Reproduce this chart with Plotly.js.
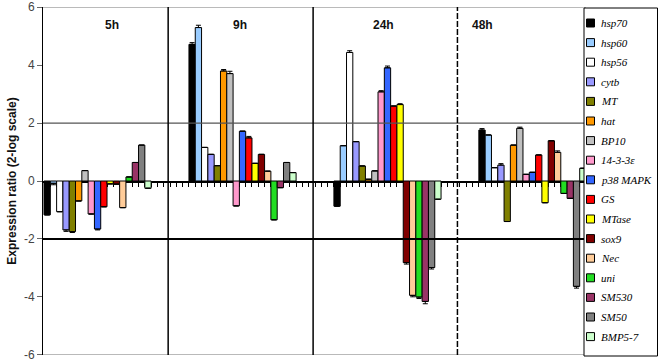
<!DOCTYPE html>
<html><head><meta charset="utf-8">
<script src="https://cdn.plot.ly/plotly-3.0.1.min.js"></script>
<style>html,body{margin:0;padding:0;background:#fff}#chart{width:661px;height:361px}</style>
</head><body><div id="chart"></div>
<script>
// ---- data ----
const genes = ['hsp70','hsp60','hsp56','cytb','MT','hat','BP10','14-3-3ε','p38 MAPK','GS','MTase','sox9','Nec','uni','SM530','SM50','BMP5-7'];
const geneColors = ['#000000','#99CCFF','#FFFFFF','#9999FF','#808000','#FF9900','#C0C0C0','#FF99CC','#3366FF','#FF0000','#FFFF00','#800000','#FFCC99','#22DD22','#993366','#808080','#CCFFCC'];
const times = ['5h','9h','24h','48h'];
const values5h  = [-1.17,-0.08,-1.06,-1.69,-1.75,-0.69, 0.36,-1.14,-1.66,-0.89,-0.10,-0.11,-0.92, 0.14, 0.64, 1.24,-0.25];
const values9h  = [ 4.72, 5.30, 1.16, 0.92, 0.53, 3.80, 3.71,-0.86, 1.72, 1.49, 0.61, 0.92, 0.34,-1.34,-0.23, 0.64, 0.29];
const values24h = [-0.87, 1.22, 4.44, 1.36, 0.52, 0.06, 0.35, 3.08, 3.91, 2.59, 2.64,-2.82,-3.95,-4.01,-4.16,-2.99,-0.63];
const values48h = [ 1.76, 1.59, 0.46, 0.55,-1.40, 1.24, 1.82, 0.23, 0.30, 0.90,-0.75, 1.39, 0.99,-0.43,-0.60,-3.64, 0.44];
const err5h  = [0, 0.05, 0, 0.05, 0.03, 0, 0, 0, 0.03, 0, 0, 0, 0, 0, 0, 0, 0];
const err9h  = [0.06, 0.08, 0, 0, 0, 0.05, 0.08, 0, 0, 0.05, 0, 0, 0, 0, 0, 0, 0];
const err24h = [0, 0, 0.06, 0, 0, 0, 0, 0.04, 0.06, 0, 0.03, 0.05, 0.05, 0.05, 0.08, 0.05, 0];
const err48h = [0.05, 0, 0, 0.05, 0, 0, 0.04, 0, 0, 0, 0, 0, 0.05, 0, 0, 0.06, 0];
const yTickVals = [-6,-4,-2,0,2,4,6];
const yTickText = ['-6','-4','-2','0','2','4','6'];

// ---- layout constants ----
const W = 661, H = 361;
const L = 43, R = 586, T = 7, B = 355;
const slotsPerGroup = 23;
const allValues = [values5h, values9h, values24h, values48h];
const allErr = [err5h, err9h, err24h, err48h];
const pxX = px => (px - L) / (R - L);
const pxY = py => 1 - (py - T) / (B - T);

const traces = genes.map((g, i) => {
  const ys = allValues.map(v => v[i]);
  const es = allErr.map(e => e[i]);
  return {
    type: 'bar', name: g,
    x: times.map((t, k) => k * slotsPerGroup + i + 0.5),
    y: ys, width: 1,
    marker: {color: geneColors[i], line: {color: '#000', width: 1}},
    error_y: {type: 'data', symmetric: false,
      array: ys.map((v, k) => v >= 0 ? es[k] : 0),
      arrayminus: ys.map((v, k) => v < 0 ? es[k] : 0),
      color: '#000', thickness: 1, width: 2.5},
    showlegend: false, hovertemplate: g + ' %{y}<extra></extra>'
  };
});

const shapes = [];
// horizontal reference lines
[[6,'#A8A8A8',1],[2,'#555',1.3],[-2,'#000',2],[-6,'#A8A8A8',1]].forEach(([v,c,w]) => {
  shapes.push({type:'line', xref:'paper', yref:'y', x0:0, x1:1, y0:v, y1:v, line:{color:c, width:w}, layer:'above'});
});
// group separators
[[19.7,'solid'],[42.7,'solid'],[65.6,'6px,2px']].forEach(([s,d]) => {
  shapes.push({type:'line', xref:'x', yref:'paper', x0:s, x1:s, y0:0, y1:1, line:{color:'#000', width:1.5, dash:d}, layer:'above'});
});
// legend box
shapes.push({type:'rect', xref:'paper', yref:'paper', x0:pxX(584), x1:pxX(657.5), y0:pxY(356), y1:pxY(8), line:{color:'#000', width:1}, fillcolor:'#fff', layer:'above'});
const annotations = [];
genes.forEach((g, i) => {
  const cy = 23 + 19.6 * i;
  shapes.push({type:'rect', xref:'paper', yref:'paper', x0:pxX(586.5), x1:pxX(594.5), y0:pxY(cy+4), y1:pxY(cy-4), line:{color:'#000', width:1}, fillcolor:geneColors[i], layer:'above'});
  annotations.push({xref:'paper', yref:'paper', x:pxX(600), y:pxY(cy), xanchor:'left', yanchor:'middle', showarrow:false, borderpad:0,
    text:'<i>'+g+'</i>', font:{family:'Liberation Serif, Times New Roman, serif', size:11, color:'#000'}});
});
// time labels
const timeLabelX = [10.8, 31.1, 53.8, 69.5];
times.forEach((t, k) => {
  annotations.push({xref:'x', yref:'y', x:timeLabelX[k], y:5.38, showarrow:false, text:'<b>'+t+'</b>',
    font:{family:'Liberation Sans, Arial, sans-serif', size:12, color:'#111'}});
});

const layout = {
  width: W, height: H,
  margin: {l: L, r: W - R, t: T, b: H - B, pad: 0},
  paper_bgcolor: '#fff', plot_bgcolor: '#fff',
  barmode: 'overlay', showlegend: false,
  xaxis: {range: [-0.16, 86], anchor: 'free', position: 0.5, showline: true, linecolor: '#000', linewidth: 1.5,
    ticks: 'outside', ticklen: 4, tickwidth: 1, tickcolor: '#000', tickmode: 'linear', tick0: 0, dtick: 1,
    showticklabels: false, showgrid: false, zeroline: false, layer: 'below traces', fixedrange: true},
  yaxis: {range: [-6.01, 6.01], tickmode: 'array', tickvals: yTickVals, ticktext: yTickText,
    ticks: 'outside', ticklen: 5, tickcolor: '#666', showline: true, linecolor: '#000', linewidth: 1,
    showgrid: false, zeroline: false, fixedrange: true, ticklabeloverflow: 'allow',
    tickfont: {family: 'Liberation Sans, Arial, sans-serif', size: 12, color: '#444'},
    title: {text: '<b>Expression ratio (2-log scale)</b>', standoff: 4,
      font: {family: 'Liberation Sans, Arial, sans-serif', size: 12, color: '#111'}}},
  shapes: shapes, annotations: annotations
};
Plotly.newPlot('chart', traces, layout, {displayModeBar: false, staticPlot: true});
</script>
</body></html>
